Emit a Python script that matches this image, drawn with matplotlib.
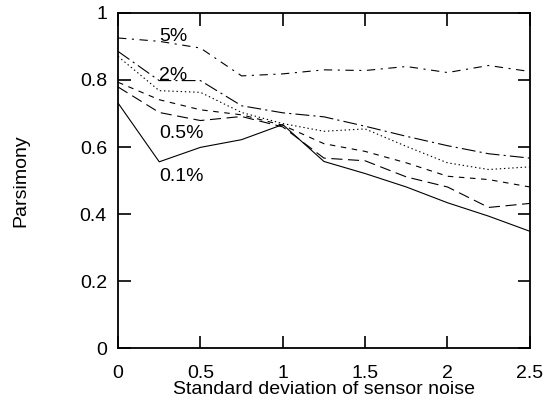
import matplotlib
matplotlib.use("Agg")
import matplotlib.pyplot as plt

plt.rcParams['font.family'] = ['Liberation Sans', 'DejaVu Sans']
plt.rcParams['lines.scale_dashes'] = False

x = [0, 0.25, 0.5, 0.75, 1.0, 1.25, 1.5, 1.75, 2.0, 2.25, 2.5]
p5 = [0.925, 0.915, 0.895, 0.812, 0.818, 0.830, 0.828, 0.840, 0.822, 0.843, 0.825]
p2 = [0.885, 0.798, 0.798, 0.723, 0.702, 0.690, 0.662, 0.632, 0.604, 0.580, 0.567]
p1 = [0.870, 0.768, 0.763, 0.703, 0.670, 0.647, 0.654, 0.602, 0.553, 0.533, 0.541]
p05 = [0.793, 0.741, 0.711, 0.696, 0.665, 0.610, 0.587, 0.553, 0.513, 0.503, 0.481]
p02 = [0.779, 0.703, 0.679, 0.691, 0.660, 0.567, 0.559, 0.511, 0.481, 0.420, 0.432]
p01 = [0.731, 0.556, 0.599, 0.622, 0.667, 0.557, 0.521, 0.481, 0.434, 0.394, 0.349]

labels = ["5%", "2%", "0.5%", "0.1%"]
label_x = [0.25, 0.25, 0.25, 0.25]
label_y = [0.917, 0.7985, 0.627, 0.498]

fs = 14
fig = plt.figure(figsize=(5.44, 4.0), dpi=100)
ax = fig.add_axes([0.217, 0.129, 0.757, 0.839])

lw = 0.8
ax.plot(x, p5, color='black', lw=lw, dashes=(6, 4, 1.5, 4))
ax.plot(x, p2, color='black', lw=lw, dashes=(10, 3, 1.5, 3))
ax.plot(x, p1, color='black', lw=lw, dashes=(1, 2))
ax.plot(x, p05, color='black', lw=lw, dashes=(4, 4))
ax.plot(x, p02, color='black', lw=lw, dashes=(8, 4))
ax.plot(x, p01, color='black', lw=lw, linestyle='-')

for t, tx, ty in zip(labels, label_x, label_y):
    ax.text(tx, ty, t, fontsize=fs, ha='left', va='baseline')

ax.set_xlim(0, 2.5)
ax.set_ylim(0, 1)
ax.set_xticks([0, 0.5, 1, 1.5, 2, 2.5])
ax.set_xticklabels(["0", "0.5", "1", "1.5", "2", "2.5"])
ax.set_yticks([0, 0.2, 0.4, 0.6, 0.8, 1])
ax.set_yticklabels(["0", "0.2", "0.4", "0.6", "0.8", "1"])
ax.tick_params(direction='in', length=9, width=1.2, labelsize=fs,
               top=True, right=True)
ax.tick_params(axis='x', pad=12)
ax.tick_params(axis='y', pad=8)
for s in ax.spines.values():
    s.set_linewidth(1.3)

ax.set_xlabel("Standard deviation of sensor noise", fontsize=fs, labelpad=-1)
ax.set_ylabel("Parsimony", fontsize=fs, labelpad=36)

fig.savefig("out.png", dpi=100)
